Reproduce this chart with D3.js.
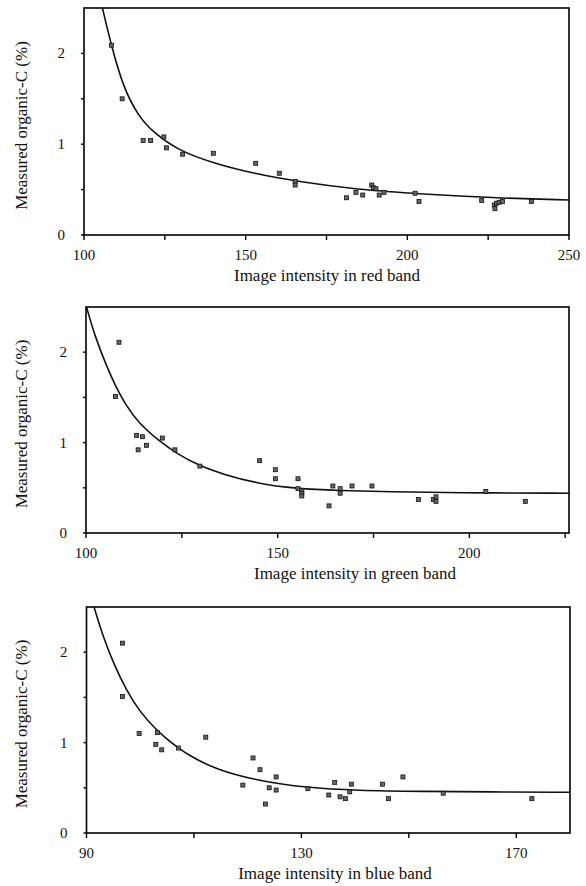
<!DOCTYPE html>
<html>
<head>
<meta charset="utf-8">
<script src="https://cdn.jsdelivr.net/npm/d3@7"></script>
<style>
  body { margin: 0; background: #fff; }
  text { font-family: 'Liberation Serif', 'Times New Roman', serif; fill: #111; }
</style>
</head>
<body>
<svg id="vis" width="586" height="886"></svg>
<script>

// red band
const redX = [108.5, 111.8, 118.3, 120.6, 124.7, 125.5, 130.5, 140, 153.1, 160.4, 165.3, 165.3,
  181.2, 184.1, 186.2, 189, 189.5, 190.3, 191.3, 192.8, 202.4, 203.6, 223, 226.9, 227.1, 227.6,
  228.4, 229.4, 238.4]
const redY = [2.09, 1.50, 1.04, 1.04, 1.08, 0.96, 0.89, 0.90, 0.79, 0.68, 0.59, 0.55,
  0.41, 0.47, 0.44, 0.55, 0.52, 0.51, 0.44, 0.47, 0.46, 0.37, 0.38, 0.33, 0.29, 0.35,
  0.36, 0.37, 0.37]
const redFitX = [105.7, 108.5, 112.2, 116.8, 121.4, 129.2, 140, 153.4, 165.8, 184.3, 205, 225.6, 250]
const redFitY = [2.5, 2.08, 1.62, 1.31, 1.13, 0.93, 0.79, 0.67, 0.59, 0.50, 0.45, 0.41, 0.385]

// green band
const greenX = [108.6, 107.7, 113.2, 114.7, 113.6, 115.8, 119.9, 123.2, 129.7, 145.3, 149.4, 149.4,
  155.3, 155.3, 156.3, 156.3, 156.3, 163.4, 164.4, 166.3, 166.3, 169.4, 174.6, 186.7, 190.6,
  191.3, 191.3, 204.3, 214.6]
const greenY = [2.11, 1.51, 1.08, 1.065, 0.92, 0.97, 1.05, 0.92, 0.74, 0.80, 0.70, 0.60,
  0.60, 0.49, 0.47, 0.44, 0.41, 0.30, 0.52, 0.49, 0.44, 0.52, 0.52, 0.37, 0.37,
  0.40, 0.35, 0.46, 0.35]
const greenFitX = [100.2, 102.3, 105.4, 108, 110.2, 113.6, 119.3, 123.6, 129.7, 135.8, 144.4, 154.9,
  166.1, 179.2, 196.5, 226]
const greenFitY = [2.49, 2.18, 1.84, 1.60, 1.43, 1.22, 1.01, 0.88, 0.74, 0.65, 0.55, 0.49,
  0.47, 0.455, 0.445, 0.44]

// blue band
const blueX = [96.7, 96.7, 99.8, 103.2, 112.2, 102.9, 104, 107.1, 119.1, 121, 122.3, 123.3, 124,
  125.3, 125.3, 131.2, 135.1, 136.2, 137.2, 138.2, 139, 139.3, 145.1, 146.2, 148.9, 156.4, 172.9]
const blueY = [2.10, 1.51, 1.10, 1.11, 1.06, 0.98, 0.92, 0.94, 0.53, 0.83, 0.70, 0.32, 0.50,
  0.62, 0.475, 0.49, 0.42, 0.56, 0.40, 0.38, 0.455, 0.54, 0.54, 0.38, 0.62, 0.44, 0.38]
const blueFitX = [91.4, 93.1, 95, 97.5, 99.95, 102.7, 104.9, 107.1, 109.3, 114.2, 121.7, 131, 140.3,
  152.7, 165.1, 180]
const blueFitY = [2.50, 2.17, 1.88, 1.57, 1.34, 1.16, 1.04, 0.94, 0.85, 0.70, 0.58, 0.50, 0.47,
  0.46, 0.455, 0.45]

// axes
const yTicks = [0, 0.5, 1, 1.5, 2]
const yLabels = [0, 1, 2]
const redTicks = [100, 125, 150, 175, 200, 225, 250]
const redLabels = [100, 150, 200, 250]
const greenTicks = [100, 125, 150, 175, 200, 225]
const greenLabels = [100, 150, 200]
const blueTicks = [90, 110, 130, 150, 170]
const blueLabels = [90, 130, 170]

const yTitle = 'Measured organic-C (%)'

const panels = [
  { xs: redX, ys: redY, fx: redFitX, fy: redFitY, dom: [100, 250], ticks: redTicks, labels: redLabels,
    title: 'Image intensity in red band', l: 84, r: 569, t: 8, b: 235, tx: 327 },
  { xs: greenX, ys: greenY, fx: greenFitX, fy: greenFitY, dom: [100, 226], ticks: greenTicks, labels: greenLabels,
    title: 'Image intensity in green band', l: 86, r: 569, t: 307, b: 533, tx: 355 },
  { xs: blueX, ys: blueY, fx: blueFitX, fy: blueFitY, dom: [90, 180], ticks: blueTicks, labels: blueLabels,
    title: 'Image intensity in blue band', l: 86.5, r: 570, t: 607, b: 833, tx: 335 }
]

const svg = d3.select('#vis')

panels.forEach((p, i) => {
  const x = d3.scaleLinear().domain(p.dom).range([p.l, p.r])
  const y = d3.scaleLinear().domain([0, 2.5]).range([p.b, p.t])
  const g = svg.append('g')

  g.append('clipPath').attr('id', 'clip' + i)
    .append('rect').attr('x', p.l).attr('y', p.t).attr('width', p.r - p.l).attr('height', p.b - p.t)

  // fitted curve
  const pts = p.fx.map((v, j) => [v, p.fy[j]])
  g.append('path')
    .datum(pts)
    .attr('clip-path', `url(#clip${i})`)
    .attr('d', d3.line().x(d => x(d[0])).y(d => y(d[1])).curve(d3.curveBasis))
    .style('fill', 'none')
    .style('stroke', '#111')
    .style('stroke-width', 1.6)

  // points
  const pd = p.xs.map((v, j) => [v, p.ys[j]])
  g.selectAll('rect.pt').data(pd).enter().append('rect')
    .attr('class', 'pt')
    .attr('x', d => x(d[0]) - 2)
    .attr('y', d => y(d[1]) - 2)
    .attr('width', 4)
    .attr('height', 4)
    .style('fill', '#666')
    .style('stroke', '#111')
    .style('stroke-width', 0.8)

  // frame
  g.append('rect')
    .attr('x', p.l).attr('y', p.t).attr('width', p.r - p.l).attr('height', p.b - p.t)
    .style('fill', 'none').style('stroke', '#000').style('stroke-width', 1.6)

  // x axis
  g.selectAll('line.xt').data(p.ticks).enter().append('line')
    .attr('x1', d => x(d)).attr('x2', d => x(d))
    .attr('y1', p.b).attr('y2', p.b + 5)
    .style('stroke', '#000').style('stroke-width', 1.4)
  g.selectAll('text.xl').data(p.labels).enter().append('text')
    .attr('x', d => x(d)).attr('y', p.b + 25)
    .attr('text-anchor', 'middle')
    .style('font-size', '15px')
    .text(d => d)
  g.append('text')
    .attr('x', p.tx).attr('y', p.b + 46)
    .attr('text-anchor', 'middle')
    .style('font-size', '17px')
    .text(p.title)

  // y axis
  g.selectAll('line.yt').data(yTicks).enter().append('line')
    .attr('x1', p.l - 3).attr('x2', p.l)
    .attr('y1', d => y(d)).attr('y2', d => y(d))
    .style('stroke', '#000').style('stroke-width', 1.4)
  g.selectAll('text.yl').data(yLabels).enter().append('text')
    .attr('x', p.l - 19).attr('y', d => y(d) + 5)
    .attr('text-anchor', 'end')
    .style('font-size', '15px')
    .text(d => d)
  g.append('text')
    .attr('transform', `translate(27,${(p.t + p.b) / 2 + 4}) rotate(-90)`)
    .attr('text-anchor', 'middle')
    .style('font-size', '17px')
    .text(yTitle)
})
</script>
</body>
</html>
